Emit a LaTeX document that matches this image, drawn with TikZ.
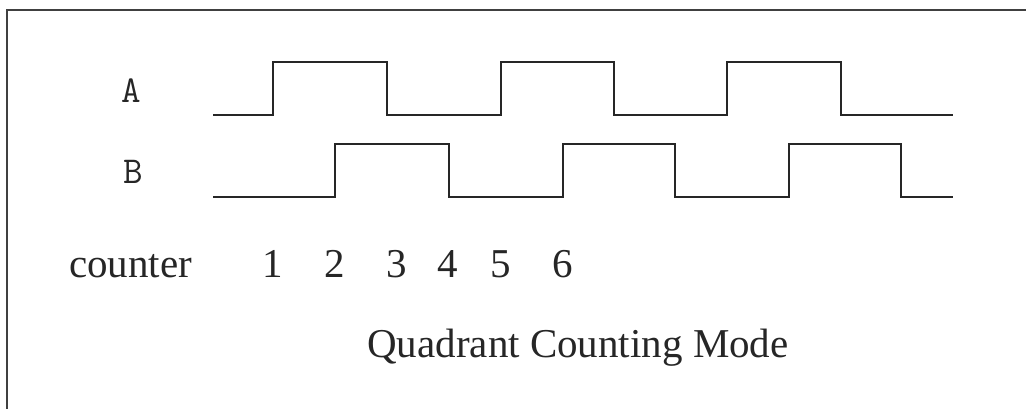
\documentclass[tikz,border=0pt]{standalone}
\usepackage{fontspec}
\setmainfont{Liberation Serif}
\begin{document}
\begin{tikzpicture}[x=1pt,y=-1pt,
  wave/.style={line width=1.9pt,draw=black!85,line join=miter},
  frameline/.style={line width=2pt,draw=black!75},
  sig/.style={font=\ttfamily\fontsize{38}{38}\selectfont,anchor=center,inner sep=0pt,text=black!85},
  lbl/.style={font=\fontsize{41}{41}\selectfont,anchor=base,inner sep=0pt,text=black!85}]
\useasboundingbox (0,0) rectangle (1026,408);
\clip (0,0) rectangle (1026,408);
% frame
\draw[frameline] (7,420) -- (7,10) -- (1040,10);
% signal labels
\node[sig] (A) at (131,91) {A};
\node[sig] (B) at (133,172) {B};
% waveform A
\draw[wave] (213,114.7) -- (273.3,114.7) -- (273.3,61.7) -- (387.3,61.7) -- (387.3,114.7)
  -- (500.7,114.7) -- (500.7,61.7) -- (613.7,61.7) -- (613.7,114.7)
  -- (727,114.7) -- (727,61.7) -- (840.7,61.7) -- (840.7,114.7) -- (953.3,114.7);
% waveform B
\draw[wave] (213,196.7) -- (335,196.7) -- (335,144.3) -- (449.3,144.3) -- (449.3,196.7)
  -- (563.3,196.7) -- (563.3,144.3) -- (675,144.3) -- (675,196.7)
  -- (788.7,196.7) -- (788.7,144.3) -- (900.7,144.3) -- (900.7,196.7) -- (953.3,196.7);
% counter row
\node[lbl,anchor=base west] (cnt) at (69,277) {counter};
\node[lbl] (c1) at (273,277) {1};
\node[lbl] (c2) at (335,277) {2};
\node[lbl] (c3) at (397,277) {3};
\node[lbl] (c4) at (448,277) {4};
\node[lbl] (c5) at (501,277) {5};
\node[lbl] (c6) at (563,277) {6};
% title
\node[lbl] (title) at (578,357) {Quadrant Counting Mode};
\end{tikzpicture}
\end{document}
